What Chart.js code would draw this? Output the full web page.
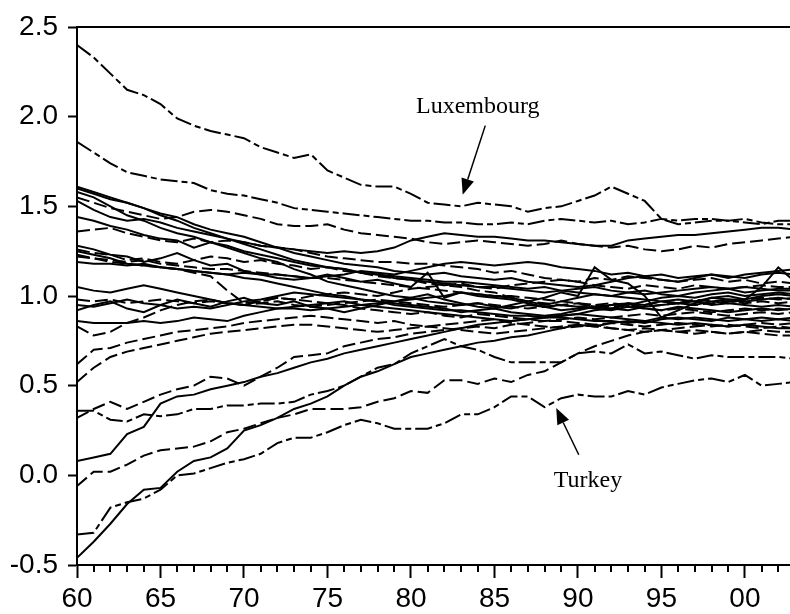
<!DOCTYPE html>
<html>
<head>
<meta charset="utf-8">
<script src="https://cdn.jsdelivr.net/npm/chart.js@4.4.0/dist/chart.umd.min.js"></script>
<style>
    html, body { margin: 0; padding: 0; background: #fff; overflow: hidden; }
    #chart { display: block; }
</style>
</head>
<body>
<canvas id="chart" width="790" height="614"></canvas>
<script>
// Years on the x axis (1960-2003)
const years = [1960, 1961, 1962, 1963, 1964, 1965, 1966, 1967, 1968, 1969,
    1970, 1971, 1972, 1973, 1974, 1975, 1976, 1977, 1978, 1979,
    1980, 1981, 1982, 1983, 1984, 1985, 1986, 1987, 1988, 1989,
    1990, 1991, 1992, 1993, 1994, 1995, 1996, 1997, 1998, 1999,
    2000, 2001, 2002, 2003];

const xTickYears = [1960, 1965, 1970, 1975, 1980, 1985, 1990, 1995, 2000];
const yTickValues = [-0.5, 0.0, 0.5, 1.0, 1.5, 2.0, 2.5];

// Series, one value per year
const luxembourg = [2.40, 2.33, 2.24, 2.15, 2.12, 2.07, 1.99, 1.95, 1.92, 1.90, 1.88, 1.83, 1.80, 1.77, 1.79, 1.70, 1.66, 1.62, 1.61, 1.61, 1.57, 1.52, 1.51, 1.50, 1.52, 1.51, 1.50, 1.47, 1.49, 1.50, 1.53, 1.56, 1.61, 1.57, 1.53, 1.43, 1.40, 1.41, 1.42, 1.42, 1.43, 1.41, 1.40, 1.40];
const turkey = [-0.33, -0.32, -0.18, -0.15, -0.13, -0.08, 0.00, 0.01, 0.04, 0.07, 0.09, 0.12, 0.18, 0.21, 0.21, 0.24, 0.28, 0.31, 0.29, 0.26, 0.26, 0.26, 0.29, 0.34, 0.34, 0.38, 0.44, 0.44, 0.38, 0.43, 0.45, 0.44, 0.44, 0.47, 0.45, 0.49, 0.51, 0.53, 0.54, 0.52, 0.56, 0.50, 0.51, 0.52];
const s02 = [1.86, 1.80, 1.74, 1.69, 1.67, 1.65, 1.64, 1.63, 1.59, 1.57, 1.56, 1.54, 1.52, 1.49, 1.48, 1.47, 1.46, 1.45, 1.44, 1.43, 1.42, 1.42, 1.41, 1.41, 1.40, 1.40, 1.41, 1.40, 1.42, 1.43, 1.42, 1.41, 1.42, 1.40, 1.41, 1.43, 1.42, 1.43, 1.43, 1.42, 1.41, 1.40, 1.42, 1.42];
const s03 = [1.61, 1.58, 1.55, 1.52, 1.49, 1.45, 1.42, 1.38, 1.35, 1.32, 1.29, 1.26, 1.23, 1.20, 1.18, 1.16, 1.15, 1.13, 1.12, 1.10, 1.09, 1.08, 1.07, 1.06, 1.05, 1.05, 1.04, 1.03, 1.02, 1.03, 1.04, 1.05, 1.03, 1.02, 1.01, 1.02, 1.03, 1.04, 1.05, 1.04, 1.05, 1.04, 1.03, 1.03];
const s04 = [1.60, 1.57, 1.54, 1.52, 1.49, 1.46, 1.44, 1.40, 1.37, 1.35, 1.33, 1.30, 1.27, 1.24, 1.22, 1.20, 1.18, 1.17, 1.16, 1.14, 1.13, 1.12, 1.13, 1.11, 1.10, 1.09, 1.10, 1.08, 1.07, 1.06, 1.05, 1.06, 1.08, 1.10, 1.11, 1.09, 1.08, 1.10, 1.12, 1.11, 1.10, 1.12, 1.13, 1.12];
const s05 = [1.58, 1.55, 1.50, 1.45, 1.42, 1.38, 1.35, 1.33, 1.30, 1.27, 1.24, 1.21, 1.19, 1.15, 1.12, 1.08, 1.06, 1.04, 1.02, 1.00, 0.99, 0.97, 0.96, 0.95, 0.96, 0.94, 0.93, 0.95, 0.94, 0.92, 0.93, 0.94, 0.95, 0.96, 0.95, 0.97, 0.98, 0.97, 0.99, 1.00, 0.98, 1.00, 1.01, 1.00];
const s06 = [1.55, 1.52, 1.49, 1.47, 1.45, 1.43, 1.44, 1.47, 1.48, 1.47, 1.45, 1.43, 1.40, 1.39, 1.39, 1.40, 1.37, 1.35, 1.34, 1.33, 1.32, 1.30, 1.29, 1.30, 1.31, 1.30, 1.29, 1.28, 1.29, 1.31, 1.29, 1.28, 1.27, 1.28, 1.26, 1.25, 1.26, 1.28, 1.27, 1.29, 1.30, 1.31, 1.32, 1.33];
const s07 = [1.53, 1.48, 1.44, 1.42, 1.43, 1.41, 1.38, 1.36, 1.34, 1.32, 1.30, 1.28, 1.27, 1.26, 1.25, 1.24, 1.25, 1.24, 1.25, 1.27, 1.31, 1.33, 1.35, 1.34, 1.33, 1.33, 1.32, 1.31, 1.31, 1.30, 1.29, 1.28, 1.28, 1.31, 1.32, 1.33, 1.34, 1.34, 1.35, 1.36, 1.37, 1.38, 1.38, 1.37];
const s08 = [1.44, 1.42, 1.39, 1.37, 1.34, 1.32, 1.31, 1.27, 1.30, 1.28, 1.25, 1.23, 1.21, 1.19, 1.17, 1.16, 1.15, 1.13, 1.12, 1.11, 1.10, 1.09, 1.08, 1.08, 1.07, 1.06, 1.05, 1.04, 1.05, 1.03, 1.02, 1.01, 1.00, 0.99, 0.98, 0.97, 0.96, 0.97, 0.95, 0.96, 0.95, 0.94, 0.95, 0.94];
const s09 = [1.36, 1.37, 1.38, 1.35, 1.33, 1.31, 1.30, 1.32, 1.30, 1.31, 1.30, 1.28, 1.27, 1.26, 1.24, 1.22, 1.21, 1.20, 1.19, 1.19, 1.18, 1.18, 1.17, 1.16, 1.15, 1.13, 1.14, 1.12, 1.10, 1.09, 1.08, 1.06, 1.05, 1.04, 1.06, 1.05, 1.04, 1.06, 1.05, 1.04, 1.05, 1.06, 1.05, 1.05];
const s10 = [1.28, 1.26, 1.23, 1.22, 1.19, 1.21, 1.24, 1.20, 1.17, 1.18, 1.14, 1.12, 1.10, 1.09, 1.10, 1.12, 1.10, 1.08, 1.09, 1.07, 1.05, 1.13, 0.99, 1.02, 1.00, 0.99, 0.98, 0.96, 0.94, 0.95, 0.94, 0.93, 0.92, 0.94, 0.93, 0.92, 0.94, 0.93, 0.92, 0.91, 0.92, 0.93, 0.92, 0.93];
const s11 = [1.26, 1.24, 1.23, 1.20, 1.21, 1.19, 1.18, 1.20, 1.22, 1.21, 1.19, 1.20, 1.18, 1.17, 1.15, 1.16, 1.14, 1.13, 1.11, 1.10, 1.09, 1.07, 1.06, 1.05, 1.03, 1.02, 0.99, 0.97, 0.96, 0.95, 0.96, 0.94, 0.95, 0.96, 0.95, 0.97, 0.96, 0.98, 0.97, 0.96, 0.98, 0.99, 0.98, 0.99];
const s12 = [1.25, 1.23, 1.21, 1.18, 1.17, 1.16, 1.15, 1.14, 1.13, 1.12, 1.10, 1.09, 1.07, 1.05, 1.03, 1.01, 1.00, 0.98, 0.97, 0.95, 0.94, 0.93, 0.92, 0.92, 0.91, 0.90, 0.89, 0.89, 0.88, 0.88, 0.87, 0.86, 0.86, 0.85, 0.86, 0.85, 0.84, 0.85, 0.84, 0.83, 0.84, 0.83, 0.82, 0.82];
const s13 = [1.23, 1.21, 1.19, 1.18, 1.17, 1.16, 1.15, 1.13, 1.11, 1.03, 0.96, 0.97, 0.99, 0.98, 0.97, 0.96, 0.95, 0.93, 0.92, 0.91, 0.90, 0.91, 0.89, 0.88, 0.90, 0.89, 0.88, 0.87, 0.86, 0.86, 0.85, 0.84, 0.85, 0.84, 0.83, 0.84, 0.85, 0.84, 0.83, 0.84, 0.83, 0.82, 0.83, 0.82];
const s14 = [1.19, 1.18, 1.18, 1.17, 1.18, 1.16, 1.15, 1.14, 1.13, 1.12, 1.13, 1.12, 1.12, 1.11, 1.10, 1.11, 1.12, 1.14, 1.13, 1.12, 1.14, 1.16, 1.18, 1.19, 1.18, 1.17, 1.18, 1.19, 1.18, 1.16, 1.15, 1.14, 1.12, 1.13, 1.11, 1.12, 1.10, 1.11, 1.12, 1.10, 1.12, 1.13, 1.14, 1.15];
const s15 = [1.05, 1.03, 1.02, 1.04, 1.06, 1.04, 1.02, 1.00, 0.98, 0.96, 0.95, 0.94, 0.93, 0.93, 0.92, 0.93, 0.94, 0.95, 0.96, 0.97, 0.98, 0.99, 1.00, 1.02, 1.01, 1.00, 0.99, 0.97, 0.95, 0.97, 0.99, 1.01, 1.00, 1.02, 1.03, 1.01, 1.00, 1.02, 1.03, 1.04, 1.02, 1.03, 1.04, 1.04];
const s16 = [0.98, 0.97, 0.98, 0.96, 0.97, 0.98, 0.97, 0.96, 0.97, 0.96, 0.95, 0.96, 0.97, 0.95, 0.94, 0.95, 0.96, 0.97, 0.98, 0.97, 0.96, 0.95, 0.94, 0.95, 0.96, 0.95, 0.94, 0.93, 0.94, 0.95, 0.94, 0.95, 0.96, 0.95, 0.94, 0.95, 0.96, 0.95, 0.96, 0.97, 0.96, 0.97, 0.96, 0.97];
const s17 = [0.92, 0.95, 0.97, 0.93, 0.91, 0.95, 0.98, 0.96, 0.94, 0.97, 0.99, 0.96, 0.95, 0.97, 0.94, 0.93, 0.91, 0.93, 0.95, 0.97, 0.99, 1.01, 0.98, 0.96, 0.94, 0.93, 0.95, 0.97, 0.99, 1.02, 1.00, 1.16, 1.09, 1.07, 1.00, 0.88, 0.92, 0.96, 0.99, 0.98, 0.98, 1.05, 1.16, 1.08];
const s18 = [0.86, 0.85, 0.85, 0.85, 0.86, 0.85, 0.86, 0.88, 0.87, 0.86, 0.89, 0.91, 0.93, 0.94, 0.95, 0.96, 0.97, 0.95, 0.94, 0.93, 0.92, 0.91, 0.90, 0.89, 0.88, 0.87, 0.86, 0.87, 0.88, 0.89, 0.90, 0.89, 0.88, 0.87, 0.86, 0.88, 0.87, 0.88, 0.87, 0.86, 0.87, 0.88, 0.87, 0.88];
const s19 = [0.83, 0.78, 0.80, 0.85, 0.88, 0.92, 0.95, 0.97, 0.98, 0.96, 0.95, 0.97, 0.99, 0.98, 1.00, 1.01, 1.02, 1.01, 1.00, 1.02, 1.04, 1.05, 1.06, 1.07, 1.05, 1.04, 1.06, 1.07, 1.08, 1.09, 1.08, 1.10, 1.09, 1.11, 1.10, 1.09, 1.08, 1.09, 1.10, 1.08, 1.09, 1.07, 1.08, 1.07];
const s20 = [0.62, 0.70, 0.71, 0.74, 0.76, 0.78, 0.80, 0.81, 0.82, 0.83, 0.85, 0.86, 0.87, 0.88, 0.89, 0.88, 0.87, 0.86, 0.85, 0.86, 0.84, 0.83, 0.84, 0.85, 0.86, 0.87, 0.85, 0.84, 0.83, 0.82, 0.83, 0.84, 0.82, 0.81, 0.82, 0.81, 0.80, 0.81, 0.80, 0.79, 0.80, 0.81, 0.80, 0.80];
const s21 = [0.52, 0.60, 0.66, 0.69, 0.71, 0.73, 0.75, 0.77, 0.79, 0.80, 0.81, 0.82, 0.83, 0.84, 0.84, 0.83, 0.82, 0.81, 0.80, 0.81, 0.82, 0.83, 0.82, 0.81, 0.80, 0.79, 0.80, 0.81, 0.82, 0.83, 0.84, 0.83, 0.82, 0.81, 0.80, 0.81, 0.80, 0.79, 0.80, 0.79, 0.80, 0.79, 0.78, 0.78];
const s22 = [0.36, 0.36, 0.31, 0.30, 0.34, 0.33, 0.34, 0.37, 0.37, 0.39, 0.39, 0.40, 0.40, 0.41, 0.45, 0.47, 0.50, 0.55, 0.60, 0.62, 0.68, 0.72, 0.76, 0.72, 0.70, 0.66, 0.63, 0.63, 0.63, 0.63, 0.68, 0.69, 0.68, 0.73, 0.68, 0.69, 0.67, 0.65, 0.67, 0.66, 0.66, 0.66, 0.66, 0.65];
const s23 = [0.32, 0.37, 0.41, 0.37, 0.41, 0.45, 0.48, 0.50, 0.55, 0.54, 0.50, 0.55, 0.60, 0.66, 0.67, 0.68, 0.72, 0.74, 0.76, 0.77, 0.79, 0.80, 0.81, 0.82, 0.83, 0.82, 0.84, 0.85, 0.86, 0.87, 0.88, 0.87, 0.88, 0.89, 0.90, 0.89, 0.90, 0.91, 0.90, 0.89, 0.90, 0.91, 0.90, 0.91];
const s24 = [0.08, 0.10, 0.12, 0.23, 0.27, 0.40, 0.44, 0.45, 0.48, 0.50, 0.52, 0.55, 0.57, 0.60, 0.63, 0.65, 0.68, 0.70, 0.72, 0.74, 0.76, 0.78, 0.80, 0.82, 0.84, 0.85, 0.86, 0.87, 0.88, 0.89, 0.90, 0.92, 0.93, 0.92, 0.94, 0.95, 0.96, 0.95, 0.97, 0.98, 0.97, 0.98, 0.99, 0.98];
const s25 = [-0.06, 0.02, 0.02, 0.06, 0.11, 0.14, 0.15, 0.16, 0.19, 0.24, 0.26, 0.29, 0.32, 0.34, 0.37, 0.37, 0.37, 0.38, 0.41, 0.43, 0.47, 0.46, 0.53, 0.53, 0.51, 0.54, 0.52, 0.56, 0.58, 0.63, 0.68, 0.72, 0.75, 0.78, 0.80, 0.81, 0.82, 0.83, 0.84, 0.83, 0.84, 0.85, 0.84, 0.85];
const s26 = [-0.46, -0.37, -0.27, -0.16, -0.08, -0.07, 0.02, 0.08, 0.10, 0.15, 0.25, 0.28, 0.32, 0.37, 0.40, 0.44, 0.50, 0.55, 0.58, 0.62, 0.66, 0.68, 0.70, 0.72, 0.74, 0.75, 0.77, 0.78, 0.80, 0.82, 0.84, 0.83, 0.85, 0.86, 0.85, 0.87, 0.88, 0.87, 0.86, 0.88, 0.87, 0.86, 0.87, 0.86];
const s28 = [1.22, 1.21, 1.20, 1.19, 1.20, 1.18, 1.17, 1.16, 1.15, 1.15, 1.14, 1.13, 1.12, 1.11, 1.10, 1.10, 1.09, 1.08, 1.07, 1.06, 1.05, 1.04, 1.03, 1.02, 1.01, 1.00, 1.00, 0.99, 0.98, 0.97, 0.96, 0.95, 0.94, 0.95, 0.93, 0.92, 0.93, 0.92, 0.91, 0.92, 0.93, 0.92, 0.93, 0.92];
const s29 = [0.95, 0.94, 0.96, 0.98, 0.96, 0.95, 0.93, 0.94, 0.93, 0.95, 0.97, 0.98, 1.00, 1.02, 1.01, 1.00, 0.99, 0.98, 0.97, 0.96, 0.95, 0.94, 0.93, 0.91, 0.92, 0.93, 0.91, 0.90, 0.89, 0.90, 0.92, 0.94, 0.93, 0.95, 0.97, 0.99, 1.00, 0.99, 1.01, 1.02, 1.00, 1.01, 1.02, 1.01];

// Callout texts
const noteTexts = ["Luxembourg", "Turkey"];

document.addEventListener("DOMContentLoaded", () => {
    const canvas = document.getElementById("chart");

    const SOLID = [];
    const DASH = [13, 5];
    const DASH_DOT = [17, 4, 6, 4];

    const lines = [
        [luxembourg, DASH_DOT], [s02, DASH_DOT], [s03, SOLID], [s04, SOLID], [s05, SOLID],
        [s06, DASH], [s07, SOLID], [s08, SOLID], [s09, DASH], [s10, SOLID],
        [s11, DASH], [s12, SOLID], [s13, DASH], [s14, SOLID], [s15, SOLID],
        [s16, DASH], [s17, SOLID], [s18, SOLID], [s19, DASH], [s20, DASH],
        [s21, DASH], [s22, DASH_DOT], [s23, DASH], [s24, SOLID], [s25, DASH],
        [s26, SOLID], [turkey, DASH_DOT], [s28, DASH], [s29, SOLID]
    ];

    const datasets = lines.map(([values, dash]) => ({
        data: years.map((yr, i) => ({ x: yr, y: values[i] })),
        borderColor: "#000",
        borderWidth: 2,
        borderDash: dash,
        pointRadius: 0,
        fill: false,
        tension: 0
    }));

    // callouts: text anchor and arrow (from, to) in data units
    const notes = [
        { text: noteTexts[0], at: [1984.0, 2.02], from: [1984.45, 1.95], to: [1983.1, 1.565] },
        { text: noteTexts[1], at: [1990.6, -0.065], from: [1990.05, 0.115], to: [1988.7, 0.375] }
    ];

    const decorations = {
        id: "decorations",
        afterDraw(chart) {
            const { ctx, chartArea, scales } = chart;
            const xs = scales.x, ys = scales.y;
            ctx.save();
            ctx.strokeStyle = "#000";
            ctx.fillStyle = "#000";

            // top frame line
            ctx.lineWidth = 2;
            ctx.beginPath();
            ctx.moveTo(chartArea.left, chartArea.top);
            ctx.lineTo(chartArea.right, chartArea.top);
            ctx.stroke();

            // minor year ticks
            years.forEach(yr => {
                if (yr % 5 === 0) return;
                const px = Math.round(xs.getPixelForValue(yr));
                if (px > chartArea.right) return;
                ctx.beginPath();
                ctx.moveTo(px, chartArea.bottom);
                ctx.lineTo(px, chartArea.bottom + 7);
                ctx.stroke();
            });

            // callouts
            ctx.font = "24px 'Liberation Serif', 'Times New Roman', serif";
            ctx.textAlign = "center";
            ctx.textBaseline = "alphabetic";
            notes.forEach(n => {
                ctx.fillText(n.text, xs.getPixelForValue(n.at[0]), ys.getPixelForValue(n.at[1]));
                const x1 = xs.getPixelForValue(n.from[0]), y1 = ys.getPixelForValue(n.from[1]);
                const x2 = xs.getPixelForValue(n.to[0]), y2 = ys.getPixelForValue(n.to[1]);
                const ang = Math.atan2(y2 - y1, x2 - x1);
                const headLen = 16, headHalf = 6.5;
                const bx = x2 - headLen * Math.cos(ang), by = y2 - headLen * Math.sin(ang);
                ctx.lineWidth = 1.5;
                ctx.beginPath();
                ctx.moveTo(x1, y1);
                ctx.lineTo(bx, by);
                ctx.stroke();
                ctx.beginPath();
                ctx.moveTo(x2, y2);
                ctx.lineTo(bx + headHalf * Math.sin(ang), by - headHalf * Math.cos(ang));
                ctx.lineTo(bx - headHalf * Math.sin(ang), by + headHalf * Math.cos(ang));
                ctx.closePath();
                ctx.fill();
            });
            ctx.restore();
        }
    };

    const tickFont = { family: "'Liberation Sans', Arial, sans-serif", size: 28 };

    new Chart(canvas.getContext("2d"), {
        type: "line",
        data: { datasets },
        options: {
            responsive: false,
            animation: false,
            events: [],
            layout: { padding: { top: 27, right: 0, left: 0, bottom: 0 } },
            plugins: {
                legend: { display: false },
                tooltip: { enabled: false },
                title: { display: false }
            },
            scales: {
                x: {
                    type: "linear",
                    min: 1960,
                    max: 2002.7,
                    afterBuildTicks: scale => { scale.ticks = xTickYears.map(v => ({ value: v })); },
                    afterFit: scale => { scale.height = 49; },
                    ticks: {
                        color: "#000",
                        font: tickFont,
                        padding: 4,
                        maxRotation: 0,
                        autoSkip: false,
                        callback: v => String(v % 100).padStart(2, "0")
                    },
                    grid: {
                        drawOnChartArea: false,
                        drawTicks: true,
                        tickLength: 13,
                        tickWidth: 2,
                        tickColor: "#000"
                    },
                    border: { display: true, color: "#000", width: 2 }
                },
                y: {
                    min: -0.5,
                    max: 2.5,
                    afterBuildTicks: scale => { scale.ticks = yTickValues.map(v => ({ value: v })); },
                    afterFit: scale => { scale.width = 77; },
                    ticks: {
                        color: "#000",
                        font: tickFont,
                        padding: 10,
                        callback: v => v.toFixed(1)
                    },
                    grid: {
                        drawOnChartArea: false,
                        drawTicks: true,
                        tickLength: 9,
                        tickWidth: 2,
                        tickColor: "#000"
                    },
                    border: { display: true, color: "#000", width: 2 }
                }
            }
        },
        plugins: [decorations]
    });
});
</script>
</body>
</html>
